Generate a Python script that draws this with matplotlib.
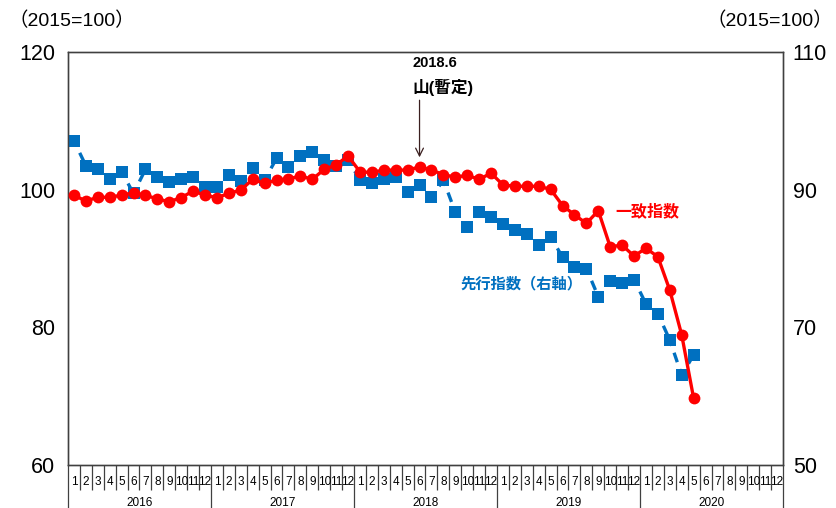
import matplotlib
matplotlib.use("Agg")
import matplotlib.pyplot as plt
import numpy as np

plt.rcParams['font.family'] = ['Liberation Sans', 'Noto Sans CJK JP', 'DejaVu Sans']

years = ["2016", "2017", "2018", "2019", "2020"]
month_labels = [str(m) for m in range(1, 13)]

# 一致指数 (left axis), 2016-01 .. 2020-05
coincident = [99.2, 98.35, 98.9, 98.9, 99.2, 99.55, 99.2, 98.65, 98.25, 98.85, 99.8, 99.2,
              98.85, 99.45, 99.95, 101.5, 100.9, 101.4, 101.55, 102.0, 101.5, 102.95, 103.6, 104.9,
              102.6, 102.5, 102.85, 102.85, 102.85, 103.3, 102.85, 102.2, 101.8, 102.1, 101.5, 102.4,
              100.7, 100.5, 100.5, 100.5, 100.05, 97.7, 96.35, 95.1, 96.95, 91.7, 91.95, 90.35,
              91.5, 90.25, 85.4, 78.9, 69.7]
# 先行指数 (right axis), 2016-01 .. 2020-05
leading = [97.1, 93.5, 92.95, 91.5, 92.6, 89.45, 92.95, 91.8, 91.15, 91.6, 91.8, 90.45,
           90.45, 92.15, 91.3, 93.2, 91.4, 94.55, 93.25, 94.95, 95.45, 94.3, 93.45, 94.35,
           91.4, 90.9, 91.5, 91.8, 89.7, 90.7, 88.9, 91.4, 86.75, 84.6, 86.75, 86.0,
           85.0, 84.1, 83.55, 81.95, 83.15, 80.2, 78.8, 78.55, 74.45, 76.8, 76.4, 76.95,
           73.4, 72.0, 68.15, 63.05, 66.0]

peak_index = 29  # 2018.6

fig = plt.figure(figsize=(8.37, 5.08), dpi=100)
ax = fig.add_axes([0.0812, 0.0846, 0.8543, 0.813])
ax2 = ax.twinx()

n_months = len(years) * 12
x_c = np.arange(len(coincident))
x_l = np.arange(len(leading))

# leading index: dashed segments restarting at each point
blue = '#0070C0'
for i in range(len(leading) - 1):
    ax2.plot(x_l[i:i + 2], leading[i:i + 2], color=blue, lw=2.4,
             linestyle=(1.2, (3.0, 2.2)), dash_capstyle='butt', zorder=2)
ax2.plot(x_l, leading, linestyle='none', marker='s', ms=8.5, color=blue,
         markeredgewidth=0, zorder=3)

ax.set_zorder(ax2.get_zorder() + 1)
ax.patch.set_visible(False)
ax.plot(x_c, coincident, color='#FF0000', lw=2.4, marker='o', ms=8.5,
        markeredgewidth=0, zorder=4)

ax.set_xlim(-0.5, n_months - 0.5)
ax.set_ylim(60, 120)
ax2.set_ylim(50, 110)
ax.set_yticks([60, 80, 100, 120])
ax2.set_yticks([50, 70, 90, 110])
ax.tick_params(axis='y', length=0, pad=9, labelsize=15.5)
ax2.tick_params(axis='y', length=0, pad=7, labelsize=15.5)

# x axis: month separators (minor) and year separators (major)
ax.set_xticks(np.arange(0, n_months + 1, 12) - 0.5)
ax.set_xticks(np.arange(0, n_months + 1) - 0.5, minor=True)
ax.set_xticklabels([])
ax.tick_params(axis='x', which='major', length=34, width=0.9, color='#404040', direction='out')
ax.tick_params(axis='x', which='minor', length=18, width=0.9, color='#404040', direction='out')
ax2.tick_params(axis='x', length=0)

trans = ax.get_xaxis_transform()
for yi, yr in enumerate(years):
    for mi, ml in enumerate(month_labels):
        ax.text(yi * 12 + mi, -0.04, ml, transform=trans, ha='center', va='center',
                fontsize=8.5, clip_on=False)
    ax.text(yi * 12 + 5.5, -0.093, yr, transform=trans, ha='center', va='center',
            fontsize=8.5, clip_on=False)

for sp in ax.spines.values():
    sp.set_color('#404040')
    sp.set_linewidth(1.0)
for sp in ax2.spines.values():
    sp.set_color('#606060')
    sp.set_linewidth(1.0)

# peak annotation
ax.annotate('', xy=(peak_index, coincident[peak_index] + 1.0), xytext=(peak_index, 113.4),
            arrowprops=dict(arrowstyle='->', color='#3a1f1f', lw=0.9, mutation_scale=14))
ax.text(28.4, 118.4, '2018.6', fontsize=10.5, fontweight='bold', ha='left', va='center')
ax.text(28.4, 114.8, '山(暫定)', fontsize=12, fontweight='bold', ha='left', va='center')

ax.text(45.4, 96.8, '一致指数', fontsize=11.5, fontweight='bold', color='#FF0000',
        ha='left', va='center')
ax.text(32.4, 86.3, '先行指数（右軸）', fontsize=11, fontweight='bold', color=blue,
        ha='left', va='center')

fig.text(0.010, 0.958, '（2015=100）', fontsize=14, ha='left', va='center')
fig.text(0.995, 0.958, '（2015=100）', fontsize=14, ha='right', va='center')

fig.savefig('out.png', dpi=100)
